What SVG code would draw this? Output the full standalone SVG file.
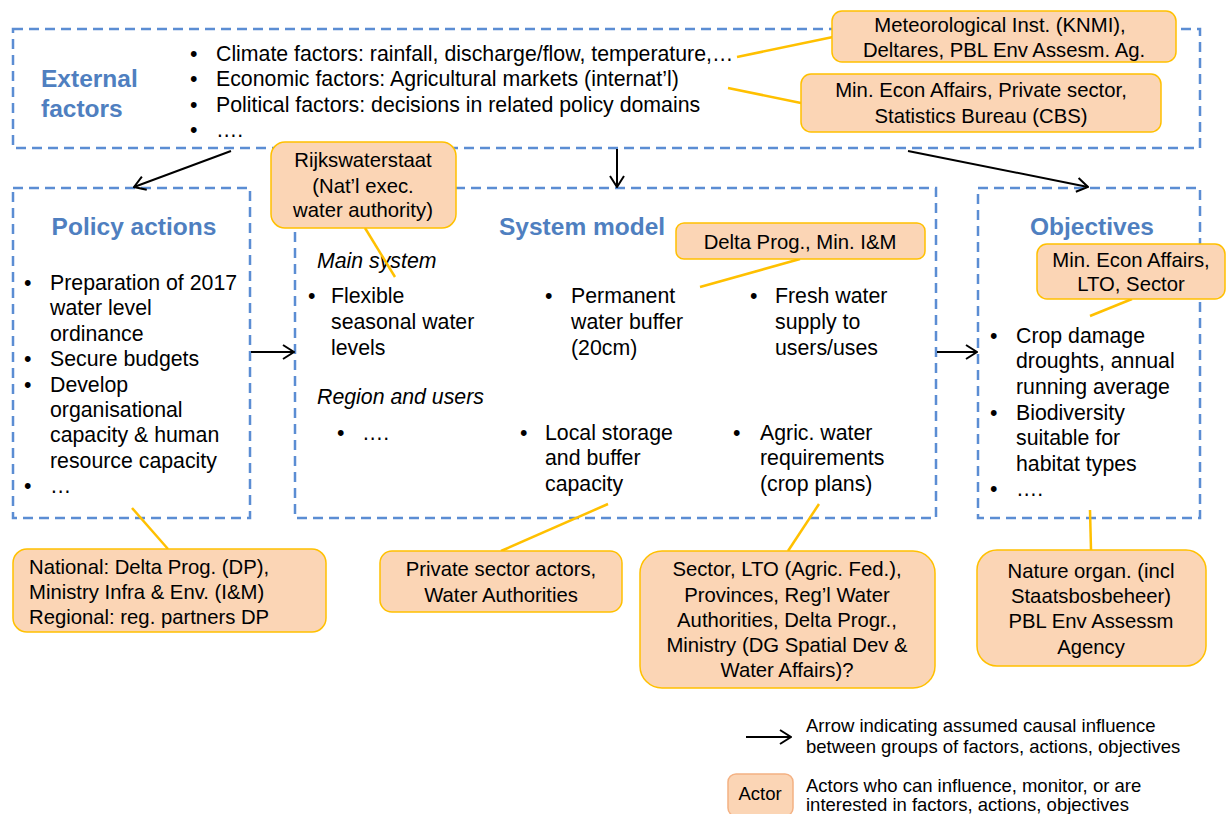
<svg xmlns="http://www.w3.org/2000/svg" width="1226" height="814" viewBox="0 0 1226 814">
<defs>
<marker id="arr" viewBox="0 0 13 16" refX="12" refY="8" markerWidth="13" markerHeight="16" markerUnits="userSpaceOnUse" orient="auto">
<path d="M1,1 L12,8 L1,15" fill="none" stroke="#000" stroke-width="2"/>
</marker>
<style>
text{font-family:"Liberation Sans",Arial,sans-serif;fill:#000}
.grp{fill:#fff;stroke:#5B8DD3;stroke-width:2.5;stroke-dasharray:10 6}
.ttl{font-size:24.5px;font-weight:bold;fill:#4F7FC0}
.b{font-size:21.3px}
.it{font-size:21.3px;font-style:italic}
.act{fill:#FBD5B5;stroke:#FFC000;stroke-width:1.5}
.at{font-size:20.3px;text-anchor:middle}
.al{font-size:20.3px}
.lnk{stroke:#FFC000;stroke-width:2.5;fill:none}
.arw{stroke:#000;stroke-width:2;fill:none;marker-end:url(#arr)}
.lg{font-size:18.5px}
</style>
</defs>
<rect width="1226" height="814" fill="#fff"/>

<g id="external-factors">
<rect class="grp" x="13" y="29" width="1187" height="119"/>
<text class="ttl" x="41" y="87">External</text>
<text class="ttl" x="41" y="117">factors</text>
<g class="b">
<text x="190" y="61">•</text><text x="216" y="61">Climate factors: rainfall, discharge/flow, temperature,…</text>
<text x="190" y="86">•</text><text x="216" y="86">Economic factors: Agricultural markets (internat’l)</text>
<text x="190" y="112">•</text><text x="216" y="112">Political factors: decisions in related policy domains</text>
<text x="190" y="137">•</text><text x="216" y="137">….</text>
</g>
</g>

<g id="policy-actions">
<rect class="grp" x="13" y="188" width="237" height="330"/>
<text class="ttl" x="134" y="235" text-anchor="middle">Policy actions</text>
<g class="b">
<text x="24" y="290">•</text><text x="50" y="290">Preparation of 2017</text>
<text x="50" y="315">water level</text>
<text x="50" y="341">ordinance</text>
<text x="24" y="366">•</text><text x="50" y="366">Secure budgets</text>
<text x="24" y="392">•</text><text x="50" y="392">Develop</text>
<text x="50" y="417">organisational</text>
<text x="50" y="442">capacity &amp; human</text>
<text x="50" y="468">resource capacity</text>
<text x="24" y="493">•</text><text x="50" y="493">…</text>
</g>
</g>

<g id="system-model">
<rect class="grp" x="295" y="188" width="641" height="330"/>
<text class="ttl" x="499" y="235">System model</text>
<text class="it" x="317" y="268">Main system</text>
<g class="b">
<text x="308" y="303">•</text><text x="331" y="303">Flexible</text>
<text x="331" y="329">seasonal water</text>
<text x="331" y="355">levels</text>
<text x="545" y="303">•</text><text x="571" y="303">Permanent</text>
<text x="571" y="329">water buffer</text>
<text x="571" y="355">(20cm)</text>
<text x="750" y="303">•</text><text x="775" y="303">Fresh water</text>
<text x="775" y="329">supply to</text>
<text x="775" y="355">users/uses</text>
</g>
<text class="it" x="317" y="404">Region and users</text>
<g class="b">
<text x="337" y="440">•</text><text x="362" y="440">….</text>
<text x="520" y="440">•</text><text x="545" y="440">Local storage</text>
<text x="545" y="465">and buffer</text>
<text x="545" y="491">capacity</text>
<text x="733" y="440">•</text><text x="760" y="440">Agric. water</text>
<text x="760" y="465">requirements</text>
<text x="760" y="491">(crop plans)</text>
</g>
</g>

<g id="objectives">
<rect class="grp" x="978" y="188" width="222" height="330"/>
<text class="ttl" x="1092" y="235" text-anchor="middle">Objectives</text>
<g class="b">
<text x="990" y="343">•</text><text x="1016" y="343">Crop damage</text>
<text x="1016" y="368">droughts, annual</text>
<text x="1016" y="394">running average</text>
<text x="990" y="420">•</text><text x="1016" y="420">Biodiversity</text>
<text x="1016" y="445">suitable for</text>
<text x="1016" y="471">habitat types</text>
<text x="990" y="496">•</text><text x="1016" y="496">….</text>
</g>
</g>

<g id="connectors">
<line class="arw" x1="231" y1="151" x2="134" y2="187"/>
<line class="arw" x1="617" y1="149" x2="617" y2="187"/>
<line class="arw" x1="908" y1="151" x2="1088" y2="187"/>
<line class="arw" x1="251" y1="352" x2="294" y2="352"/>
<line class="arw" x1="937" y1="352" x2="977" y2="352"/>
<line class="lnk" x1="737" y1="57" x2="833" y2="37"/>
<line class="lnk" x1="728" y1="88" x2="801" y2="103"/>
<line class="lnk" x1="365" y1="228" x2="395" y2="277"/>
<line class="lnk" x1="800" y1="259" x2="700" y2="287"/>
<line class="lnk" x1="1132" y1="299" x2="1090" y2="316"/>
<line class="lnk" x1="132" y1="508" x2="168" y2="549"/>
<line class="lnk" x1="608" y1="504" x2="501" y2="551"/>
<line class="lnk" x1="819" y1="504" x2="788" y2="551"/>
<line class="lnk" x1="1090" y1="510" x2="1091" y2="550"/>
</g>

<g id="actor-knmi">
<rect class="act" x="832" y="11" width="344" height="51" rx="10"/>
<text class="at" x="1000" y="32">Meteorological Inst. (KNMI),</text>
<text class="at" x="1004" y="57">Deltares, PBL Env Assesm. Ag.</text>
</g>
<g id="actor-econ">
<rect class="act" x="801" y="74" width="360" height="58" rx="10"/>
<text class="at" x="981" y="97">Min. Econ Affairs, Private sector,</text>
<text class="at" x="981" y="123">Statistics Bureau (CBS)</text>
</g>
<g id="actor-rws">
<rect class="act" x="271" y="142" width="185" height="86" rx="14"/>
<text class="at" x="363" y="167">Rijkswaterstaat</text>
<text class="at" x="363" y="193">(Nat’l exec.</text>
<text class="at" x="363" y="217">water authority)</text>
</g>
<g id="actor-delta">
<rect class="act" x="676" y="223" width="249" height="36" rx="8"/>
<text class="at" x="800" y="249">Delta Prog., Min. I&amp;M</text>
</g>
<g id="actor-obj">
<rect class="act" x="1037" y="244" width="188" height="55" rx="10"/>
<text class="at" x="1131" y="267">Min. Econ Affairs,</text>
<text class="at" x="1131" y="291">LTO, Sector</text>
</g>
<g id="actor-national">
<rect class="act" x="13" y="549" width="313" height="83" rx="14"/>
<text class="al" x="29" y="574">National: Delta Prog. (DP),</text>
<text class="al" x="29" y="599">Ministry Infra &amp; Env. (I&amp;M)</text>
<text class="al" x="29" y="624">Regional: reg. partners DP</text>
</g>
<g id="actor-private">
<rect class="act" x="380" y="551" width="242" height="61" rx="12"/>
<text class="at" x="501" y="576">Private sector actors,</text>
<text class="at" x="501" y="602">Water Authorities</text>
</g>
<g id="actor-sector">
<rect class="act" x="640" y="551" width="295" height="137" rx="22"/>
<text class="at" x="787" y="576">Sector, LTO (Agric. Fed.),</text>
<text class="at" x="787" y="602">Provinces, Reg’l Water</text>
<text class="at" x="787" y="627">Authorities, Delta Progr.,</text>
<text class="at" x="787" y="652">Ministry (DG Spatial Dev &amp;</text>
<text class="at" x="787" y="677">Water Affairs)?</text>
</g>
<g id="actor-nature">
<rect class="act" x="977" y="550" width="229" height="116" rx="20"/>
<text class="at" x="1091" y="578">Nature organ. (incl</text>
<text class="at" x="1091" y="603">Staatsbosbeheer)</text>
<text class="at" x="1091" y="628">PBL Env Assessm</text>
<text class="at" x="1091" y="654">Agency</text>
</g>

<g id="legend">
<line class="arw" x1="746" y1="737" x2="791" y2="737"/>
<text class="lg" x="806" y="732">Arrow indicating assumed causal influence</text>
<text class="lg" x="806" y="753">between groups of factors, actions, objectives</text>
<rect x="728" y="774" width="65" height="42" rx="8" fill="#FBD5B5" stroke="#F4B183" stroke-width="1.5"/>
<text class="lg" x="760" y="800" text-anchor="middle">Actor</text>
<text class="lg" x="806" y="792">Actors who can influence, monitor, or are</text>
<text class="lg" x="806" y="811">interested in factors, actions, objectives</text>
</g>
</svg>
